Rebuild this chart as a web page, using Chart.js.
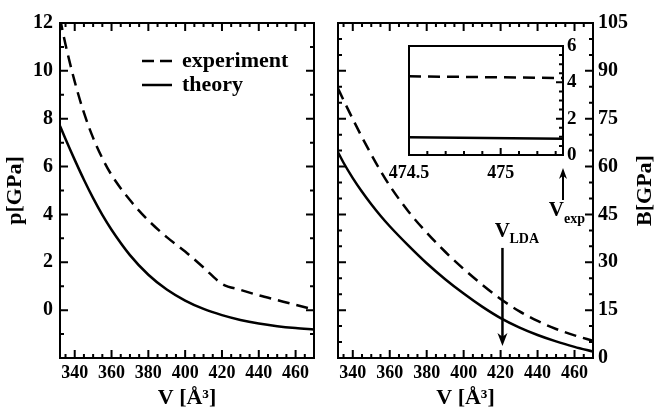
<!DOCTYPE html>
<html>
<head>
<meta charset="utf-8">
<script src="https://cdn.jsdelivr.net/npm/chart.js@4.4.1/dist/chart.umd.min.js"></script>
<style>
  body { margin: 0; background: #fff; }
  #wrap { position: relative; width: 656px; height: 412px; overflow: hidden; }
  #wrap canvas { position: absolute; }
</style>
</head>
<body>
<div id="wrap">
  <canvas id="pressure" width="328" height="412" style="left:0;top:0;width:328px;height:412px"></canvas>
  <canvas id="bulk" width="328" height="412" style="left:328px;top:0;width:328px;height:412px"></canvas>
  <canvas id="inset" width="220" height="210" style="left:380px;top:30px;width:220px;height:210px"></canvas>
</div>
<script>
// volume grid shared by both panels
const volume = [332, 335, 340, 345, 350, 355, 360, 370, 380, 390, 400, 410, 420, 430, 440, 450, 460, 470];
const pressureExp = [12.2, 11.1, 9.55, 8.25, 7.2, 6.35, 5.65, 4.6, 3.75, 3.05, 2.45, 1.78, 1.1, 0.85, 0.62, 0.42, 0.22, 0.03];
const pressureTheory = [7.7, 7.15, 6.28, 5.45, 4.68, 3.98, 3.36, 2.3, 1.48, 0.86, 0.4, 0.05, -0.21, -0.41, -0.56, -0.67, -0.75, -0.81];
const bulkExp = [84.5, 80.8, 74.9, 69.2, 63.8, 58.7, 54.0, 46.0, 39.3, 33.3, 27.9, 23.0, 18.5, 14.7, 11.6, 9.1, 7.1, 5.4];
const bulkTheory = [64.5, 61.2, 56.4, 52.1, 48.2, 44.6, 41.3, 35.3, 29.7, 24.7, 20.2, 16.1, 12.5, 9.6, 7.2, 5.2, 3.5, 2.0];

// zoom around the experimental volume
const insetVolume = [474.5, 475.34];
const insetBulkExp = [4.33, 4.24];
const insetBulkTheory = [0.98, 0.89];

const volumeTicks = [340, 360, 380, 400, 420, 440, 460];
const pressureTicks = [0, 2, 4, 6, 8, 10, 12];
const bulkTicks = [0, 15, 30, 45, 60, 75, 90, 105];
const insetVolumeTicks = [474.5, 475];
const insetBulkTicks = [0, 2, 4, 6];

const vLDA = 421;
const vExp = 475.34;

const SERIF = "'Liberation Serif', 'Times New Roman', serif";

function pts(xs, ys) {
  return xs.map((x, i) => ({ x: x, y: ys[i] }));
}

function curve(label, xs, ys, dashed) {
  return {
    label: label,
    data: pts(xs, ys),
    borderColor: '#000',
    borderWidth: 2.5,
    borderDash: dashed ? [12, 7] : [],
    pointRadius: 0,
    fill: false,
    cubicInterpolationMode: 'monotone'
  };
}

function fixedTicks(values) {
  return function (scale) {
    scale.ticks = values.map(v => ({ value: v }));
  };
}

function steps(min, max, step) {
  const out = [];
  for (let k = Math.ceil(min / step - 1e-6); k * step <= max + 1e-6; k++) out.push(k * step);
  return out;
}

// frame round the plot area plus inward tick marks
const frameTicks = {
  id: 'frameTicks',
  afterDatasetsDraw(chart, args, opts) {
    const ctx = chart.ctx;
    const a = chart.chartArea;
    const xs = chart.scales.x, ys = chart.scales.y;
    ctx.save();
    ctx.strokeStyle = '#000';
    ctx.lineWidth = 2;
    ctx.beginPath();
    const mark = (scale, values, len, sides) => {
      values.forEach(v => {
        const p = scale.getPixelForValue(v);
        sides.forEach(side => {
          if (side === 'bottom') { ctx.moveTo(p, a.bottom); ctx.lineTo(p, a.bottom - len); }
          if (side === 'top') { ctx.moveTo(p, a.top); ctx.lineTo(p, a.top + len); }
          if (side === 'left') { ctx.moveTo(a.left, p); ctx.lineTo(a.left + len, p); }
          if (side === 'right') { ctx.moveTo(a.right, p); ctx.lineTo(a.right - len, p); }
        });
      });
    };
    mark(xs, opts.xMajor, opts.majorLen, opts.xSides);
    mark(xs, steps(xs.min, xs.max, opts.xMinor), opts.minorLen, opts.xSides);
    mark(ys, opts.yMajor, opts.majorLen, opts.ySides);
    mark(ys, steps(ys.min, ys.max, opts.yMinor), opts.minorLen, opts.ySides);
    ctx.stroke();
    ctx.strokeRect(a.left, a.top, a.right - a.left, a.bottom - a.top);
    ctx.restore();
  }
};

function xAxis(ticks, height) {
  return {
    type: 'linear',
    min: 332,
    max: 470,
    afterBuildTicks: fixedTicks(ticks),
    afterFit: s => { s.height = height; },
    grid: { display: false, drawTicks: false },
    border: { display: false },
    ticks: { color: '#000', padding: 5, maxRotation: 0, font: { family: SERIF, size: 18, weight: 'bold' } },
    title: {
      display: true,
      text: 'V [Å³]',
      color: '#000',
      padding: { top: 0, bottom: 0 },
      font: { family: SERIF, size: 22, weight: 'bold' }
    }
  };
}

// pressure panel
new Chart(document.getElementById('pressure'), {
  type: 'line',
  data: {
    datasets: [
      curve('experiment', volume, pressureExp, true),
      curve('theory', volume, pressureTheory, false)
    ]
  },
  options: {
    responsive: false,
    animation: false,
    layout: { padding: { left: 0, right: 14, top: 23, bottom: 0 } },
    plugins: {
      legend: { display: false },
      tooltip: { enabled: false },
      frameTicks: {
        xMajor: volumeTicks, xMinor: 5, xSides: ['bottom', 'top'],
        yMajor: pressureTicks, yMinor: 1, ySides: ['left', 'right'],
        majorLen: 8, minorLen: 4
      }
    },
    scales: {
      x: xAxis(volumeTicks, 54),
      y: {
        type: 'linear',
        position: 'left',
        min: -2,
        max: 12,
        afterBuildTicks: fixedTicks(pressureTicks),
        afterFit: s => { s.width = 60; },
        grid: { display: false, drawTicks: false },
        border: { display: false },
        ticks: { color: '#000', padding: 7, font: { family: SERIF, size: 20, weight: 'bold' } },
        title: {
          display: true,
          text: 'p[GPa]',
          color: '#000',
          padding: { top: 2, bottom: 0 },
          font: { family: SERIF, size: 22, weight: 'bold' }
        }
      }
    }
  },
  plugins: [frameTicks, {
    id: 'curveKey',
    afterDraw(chart) {
      const ctx = chart.ctx;
      const rows = [{ y: 61, dash: [12, 6] }, { y: 85, dash: [] }];
      ctx.save();
      ctx.strokeStyle = '#000';
      ctx.fillStyle = '#000';
      ctx.lineWidth = 2.5;
      ctx.font = 'bold 22px ' + SERIF;
      ctx.textBaseline = 'middle';
      chart.data.datasets.forEach((ds, i) => {
        const r = rows[i];
        ctx.setLineDash(r.dash);
        ctx.beginPath();
        ctx.moveTo(142, r.y);
        ctx.lineTo(172, r.y);
        ctx.stroke();
        ctx.fillText(ds.label, 182, r.y);
      });
      ctx.restore();
    }
  }]
});

function drawArrow(ctx, x, from, tip, head, half) {
  const dir = Math.sign(tip - from);
  ctx.beginPath();
  ctx.moveTo(x, from);
  ctx.lineTo(x, tip - dir * head * 0.6);
  ctx.stroke();
  ctx.beginPath();
  ctx.moveTo(x, tip);
  ctx.lineTo(x - half, tip - dir * head);
  ctx.lineTo(x, tip - dir * head * 0.7);
  ctx.lineTo(x + half, tip - dir * head);
  ctx.closePath();
  ctx.fill();
}

// bulk modulus panel
new Chart(document.getElementById('bulk'), {
  type: 'line',
  data: {
    datasets: [
      curve('experiment', volume, bulkExp, true),
      curve('theory', volume, bulkTheory, false)
    ]
  },
  options: {
    responsive: false,
    animation: false,
    layout: { padding: { left: 10, right: 0, top: 23, bottom: 0 } },
    plugins: {
      legend: { display: false },
      tooltip: { enabled: false },
      frameTicks: {
        xMajor: volumeTicks, xMinor: 5, xSides: ['bottom', 'top'],
        yMajor: bulkTicks, yMinor: 5, ySides: ['left', 'right'],
        majorLen: 8, minorLen: 4
      }
    },
    scales: {
      x: xAxis(volumeTicks, 54),
      y: {
        type: 'linear',
        position: 'right',
        min: 0,
        max: 105,
        afterBuildTicks: fixedTicks(bulkTicks),
        afterFit: s => { s.width = 63; },
        grid: { display: false, drawTicks: false },
        border: { display: false },
        ticks: { color: '#000', padding: 5, font: { family: SERIF, size: 20, weight: 'bold' } }
      }
    }
  },
  plugins: [frameTicks, {
    id: 'bulkNotes',
    afterDraw(chart) {
      const ctx = chart.ctx;
      const a = chart.chartArea;
      const x = chart.scales.x.getPixelForValue(vLDA);
      const y = chart.scales.y;
      ctx.save();
      ctx.fillStyle = '#000';
      ctx.strokeStyle = '#000';
      ctx.lineWidth = 2.5;
      drawArrow(ctx, x, y.getPixelForValue(34.5), y.getPixelForValue(3.8), 13, 5);
      ctx.textBaseline = 'alphabetic';
      ctx.font = 'bold 21px ' + SERIF;
      ctx.textAlign = 'center';
      ctx.fillText('V', x, 237);
      ctx.font = 'bold 14px ' + SERIF;
      ctx.textAlign = 'left';
      ctx.fillText('LDA', x + 7, 243);
      // right-hand axis title, read bottom to top
      ctx.translate(317, (a.top + a.bottom) / 2);
      ctx.rotate(-Math.PI / 2);
      ctx.font = 'bold 22px ' + SERIF;
      ctx.textAlign = 'center';
      ctx.textBaseline = 'middle';
      ctx.fillText('B[GPa]', 0, 0);
      ctx.restore();
    }
  }]
});

// inset: both curves near the experimental volume
new Chart(document.getElementById('inset'), {
  type: 'line',
  data: {
    datasets: [
      curve('experiment', insetVolume, insetBulkExp, true),
      curve('theory', insetVolume, insetBulkTheory, false)
    ]
  },
  options: {
    responsive: false,
    animation: false,
    layout: { padding: { left: 29, right: 0, top: 16, bottom: 0 } },
    plugins: {
      legend: { display: false },
      tooltip: { enabled: false },
      frameTicks: {
        xMajor: insetVolumeTicks, xMinor: 0.1, xSides: ['bottom'],
        yMajor: insetBulkTicks, yMinor: 0.5, ySides: ['right'],
        majorLen: 7, minorLen: 4
      }
    },
    scales: {
      x: {
        type: 'linear',
        min: 474.5,
        max: 475.34,
        afterBuildTicks: fixedTicks(insetVolumeTicks),
        afterFit: s => { s.height = 85; },
        grid: { display: false, drawTicks: false },
        border: { display: false },
        ticks: {
          color: '#000', padding: 8, maxRotation: 0,
          font: { family: SERIF, size: 18, weight: 'bold' },
          callback: v => String(v)
        }
      },
      y: {
        type: 'linear',
        position: 'right',
        min: 0,
        max: 6,
        afterBuildTicks: fixedTicks(insetBulkTicks),
        afterFit: s => { s.width = 37; },
        grid: { display: false, drawTicks: false },
        border: { display: false },
        ticks: { color: '#000', padding: 4, font: { family: SERIF, size: 19, weight: 'bold' } }
      }
    }
  },
  plugins: [{
    id: 'insetBackground',
    beforeDatasetsDraw(chart) {
      const a = chart.chartArea;
      chart.ctx.save();
      chart.ctx.fillStyle = '#fff';
      chart.ctx.fillRect(a.left, a.top, a.right - a.left, a.bottom - a.top);
      chart.ctx.restore();
    }
  }, frameTicks, {
    id: 'expMarker',
    afterDraw(chart) {
      const ctx = chart.ctx;
      const a = chart.chartArea;
      const x = chart.scales.x.getPixelForValue(vExp);
      ctx.save();
      ctx.fillStyle = '#000';
      ctx.strokeStyle = '#000';
      ctx.lineWidth = 2;
      drawArrow(ctx, x, a.bottom + 45, a.bottom + 13, 11, 4);
      ctx.font = 'bold 21px ' + SERIF;
      ctx.textAlign = 'right';
      ctx.fillText('V', x + 1, a.bottom + 61);
      ctx.font = 'bold 14px ' + SERIF;
      ctx.textAlign = 'left';
      ctx.fillText('exp', x + 1, a.bottom + 68);
      ctx.restore();
    }
  }]
});
</script>
</body>
</html>
